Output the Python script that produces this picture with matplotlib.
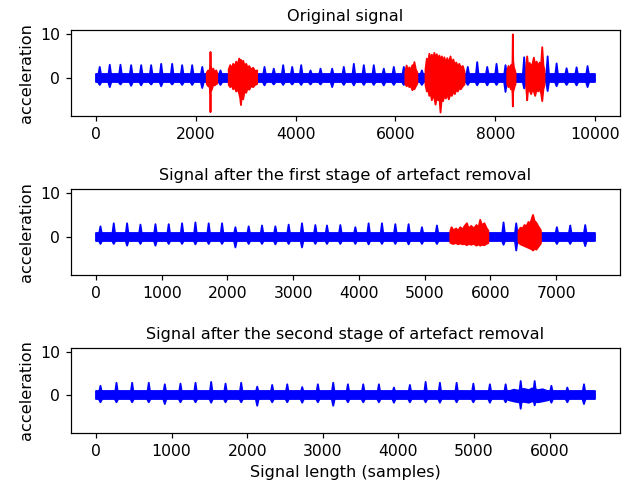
import numpy as np
import matplotlib
matplotlib.use("Agg")
import matplotlib.pyplot as plt

BLUE = "#0000ff"
RED = "#ff0000"

# ---------------- data ----------------
titles = ["Original signal",
          "Signal after the first stage of artefact removal",
          "Signal after the second stage of artefact removal"]
signal_lengths = [10000, 7590, 6600]
base_up = [0.95, 0.95, 0.95]
base_dn = [-1.05, -0.95, -0.95]

# signal 1 (original) : heartbeat-like spikes
s1_spike_pos = [66, 267, 481, 695, 896, 1096, 1297, 1517, 1717, 1918, 2120, 2485,
                3367, 3553, 3741, 3922, 4102, 4289, 4489, 4723, 4956, 5157, 5357,
                5557, 5757, 5958, 6158, 6520, 7440, 7629, 7830, 8016, 8196, 8570,
                9040, 9220, 9420, 9620, 9840]
s1_spike_up = [2.6, 3.1, 3.1, 3.0, 3.0, 3.0, 3.3, 3.3, 3.0, 3.0, 2.6, 1.8,
               2.6, 2.2, 3.0, 2.6, 3.0, 1.8, 2.2, 2.2, 2.6, 3.3, 3.0,
               3.0, 2.2, 2.6, 2.6, 1.8, 2.6, 3.7, 2.6, 3.3, 3.0, 4.8,
               5.0, 3.4, 2.3, 2.5, 2.8]
s1_spike_dn = [-1.5, -2.0, -1.4, -1.7, -1.6, -1.4, -1.8, -1.4, -1.5, -1.5, -2.2, -1.5,
               -1.6, -1.4, -1.5, -1.4, -1.5, -1.4, -1.4, -2.0, -1.5, -1.6, -1.5,
               -1.5, -1.6, -1.5, -1.5, -1.5, -1.5, -1.6, -1.6, -1.5, -3.1, -2.3,
               -2.9, -1.8, -1.5, -1.6, -2.0]
# signal 1 artefact segments (red) : envelope key points
s1_art_pos = [[2210, 2240, 2270, 2280, 2285, 2292, 2310, 2340, 2370, 2400, 2420],
              [2650, 2680, 2710, 2740, 2770, 2800, 2830, 2860, 2880, 2895, 2915, 2940,
               2970, 3000, 3030, 3060, 3100, 3140, 3180, 3220],
              [6190, 6215, 6240, 6270, 6300, 6330, 6350, 6370, 6400, 6430],
              [6593, 6620, 6645, 6670, 6695, 6720, 6745, 6770, 6795, 6820, 6845, 6870,
               6894, 6920, 6945, 6970, 7000, 7030, 7060, 7094, 7120, 7150, 7180, 7210,
               7240, 7270, 7300, 7340, 7375],
              [8230, 8255, 8280, 8305, 8325, 8337, 8343, 8350, 8365, 8380, 8397],
              [8611, 8630, 8650, 8680, 8710, 8740, 8764, 8790, 8820, 8850, 8880, 8910,
               8932, 8955, 8978]]
s1_art_up = [[1.3, 1.8, 1.5, 3.5, 6.0, 3.0, 1.6, 2.2, 1.4, 1.8, 1.2],
             [2.0, 3.0, 2.2, 3.3, 2.6, 3.8, 3.0, 4.5, 3.6, 4.2, 3.2, 4.0,
              2.8, 3.3, 2.4, 2.8, 2.0, 2.4, 1.6, 1.8],
             [1.5, 2.9, 1.8, 2.5, 1.8, 3.0, 2.2, 3.7, 2.0, 1.3],
             [2.0, 4.5, 3.2, 5.6, 4.0, 5.4, 4.2, 5.8, 4.5, 5.5, 3.8, 5.2,
              4.0, 5.0, 3.6, 4.8, 3.5, 4.6, 3.4, 5.0, 3.2, 4.3, 3.0, 3.6,
              2.6, 3.3, 2.4, 2.8, 1.5],
             [1.5, 2.8, 2.0, 3.0, 2.0, 4.0, 10.0, 4.0, 2.5, 2.0, 1.3],
             [2.5, 5.0, 2.8, 3.5, 2.6, 3.4, 4.7, 3.0, 3.8, 2.8, 3.6, 3.0,
              7.1, 3.0, 1.8]]
s1_art_dn = [[-1.3, -1.8, -2.0, -4.0, -7.7, -3.0, -2.6, -1.5, -1.6, -1.3, -1.2],
             [-1.5, -2.0, -1.6, -2.5, -2.0, -3.0, -2.4, -3.5, -4.5, -6.1, -3.5, -4.8,
              -2.8, -3.3, -2.2, -2.6, -1.8, -2.0, -1.5, -1.3],
             [-1.3, -1.8, -1.5, -2.0, -1.8, -2.7, -2.2, -2.5, -1.8, -1.2],
             [-1.5, -3.0, -2.5, -4.0, -3.2, -5.0, -3.8, -4.5, -6.0, -4.2, -5.0, -4.0,
              -7.8, -4.5, -5.2, -3.8, -4.6, -3.5, -4.8, -3.5, -4.0, -3.0, -3.6, -2.6,
              -3.0, -2.2, -2.5, -1.8, -1.4],
             [-1.3, -2.0, -1.6, -2.5, -2.0, -3.5, -6.4, -3.0, -2.5, -1.8, -1.3],
             [-2.0, -5.0, -2.4, -2.8, -3.6, -2.4, -3.0, -4.0, -2.6, -3.0, -2.4, -3.4,
              -5.2, -2.5, -1.5]]

# signal 2 (after first stage)
s2_spike_pos = [61, 263, 466, 669, 897, 1099, 1302, 1505, 1707, 1910, 2113, 2315, 2518,
                2721, 2923, 3126, 3329, 3506, 3709, 3937, 4139, 4342, 4545, 4747, 4950,
                5178, 6191, 6384, 7002, 7205, 7433]
s2_spike_up = [2.5, 3.2, 3.2, 2.9, 3.0, 3.0, 3.2, 3.4, 3.2, 3.2, 2.3, 2.5, 2.7,
               2.5, 2.9, 3.2, 2.8, 2.7, 2.8, 2.3, 3.2, 3.2, 3.0, 3.0, 2.3,
               2.7, 3.4, 3.2, 2.3, 2.7, 2.8]
s2_spike_dn = [-1.5, -1.5, -1.9, -1.5, -1.9, -1.5, -1.5, -1.6, -1.5, -1.5, -2.3, -1.5, -1.5,
               -1.6, -1.5, -2.3, -1.5, -1.5, -1.5, -1.5, -1.6, -1.5, -1.5, -1.6, -1.5,
               -1.5, -1.7, -3.0, -1.5, -1.5, -2.0]
s2_art_pos = [[5381, 5400, 5430, 5470, 5500, 5533, 5570, 5600, 5634, 5660, 5700, 5740,
               5780, 5810, 5837, 5860, 5900, 5930, 5960],
              [6419, 6450, 6480, 6510, 6540, 6570, 6600, 6625, 6640, 6660, 6690, 6720, 6759]]
s2_art_up = [[1.4, 2.3, 1.6, 2.0, 1.5, 2.3, 1.8, 2.6, 3.2, 2.0, 2.6, 2.0,
              2.8, 2.2, 4.0, 2.8, 3.2, 2.2, 1.5],
             [1.5, 2.2, 2.0, 2.8, 2.5, 3.5, 3.2, 4.5, 5.1, 3.8, 3.3, 2.5, 1.6]]
s2_art_dn = [[-1.2, -1.4, -1.5, -1.3, -1.6, -1.4, -1.6, -1.5, -1.8, -1.5, -1.7, -1.5,
              -1.9, -1.6, -1.9, -1.7, -1.8, -1.5, -1.3],
             [-1.2, -1.6, -1.8, -2.0, -2.2, -2.4, -2.6, -2.8, -3.0, -2.6, -2.8, -2.2, -1.4]]

# signal 3 (after second stage)
s3_spike_pos = [53, 265, 472, 692, 904, 1111, 1310, 1517, 1707, 1914, 2126, 2324, 2523,
                2721, 2928, 3131, 3325, 3528, 3735, 3934, 4145, 4353, 4542, 4763, 4984,
                5203, 5411, 5610, 5795, 6016, 6227, 6447]
s3_spike_up = [2.3, 3.0, 3.0, 3.0, 2.65, 2.8, 3.0, 3.2, 2.8, 3.0, 2.1, 2.5, 2.65,
               2.0, 2.65, 3.0, 2.65, 2.65, 2.65, 1.9, 2.5, 3.2, 3.0, 3.0, 2.8,
               2.65, 2.65, 3.4, 3.4, 2.3, 1.9, 2.65]
s3_spike_dn = [-1.5, -1.5, -1.5, -1.5, -1.9, -1.5, -1.5, -1.6, -1.5, -1.5, -2.3, -1.5, -1.5,
               -1.6, -1.5, -2.3, -1.5, -1.5, -1.5, -1.6, -1.5, -1.5, -1.6, -1.5, -1.5,
               -1.6, -1.5, -3.0, -2.2, -1.6, -1.5, -1.9]
s3_art_pos = [[5450, 5520, 5580, 5650, 5720, 5760, 5840, 5900, 5980]]
s3_art_up = [[1.0, 1.4, 1.2, 1.6, 1.3, 1.7, 1.3, 1.5, 1.0]]
s3_art_dn = [[-1.0, -1.3, -1.5, -1.4, -1.6, -1.3, -1.5, -1.3, -1.0]]

spike_pos = [s1_spike_pos, s2_spike_pos, s3_spike_pos]
spike_up = [s1_spike_up, s2_spike_up, s3_spike_up]
spike_dn = [s1_spike_dn, s2_spike_dn, s3_spike_dn]
art_pos = [s1_art_pos, s2_art_pos, s3_art_pos]
art_up = [s1_art_up, s2_art_up, s3_art_up]
art_dn = [s1_art_dn, s2_art_dn, s3_art_dn]
art_color = [RED, RED, BLUE]

# ---------------- figure ----------------
W, H = 633, 486
fig = plt.figure(figsize=(W / 110, H / 110), dpi=110)
ax_px = [(30, 116), (189, 275), (348, 433)]
left_px, right_px = 71, 620

for i in range(3):
    top, bot = ax_px[i]
    ax = fig.add_axes([left_px / W, 1 - bot / H, (right_px - left_px) / W, (bot - top) / H])
    n = signal_lengths[i]
    half_w = 0.0025 * n
    # baseline band
    ax.fill_between([0, n], [base_dn[i]] * 2, [base_up[i]] * 2, color=BLUE,
                    linewidth=1.2, edgecolor=BLUE)
    # spikes
    for p, u, d in zip(spike_pos[i], spike_up[i], spike_dn[i]):
        ax.fill_between([p - half_w, p, p + half_w],
                        [base_dn[i], d, base_dn[i]],
                        [base_up[i], u, base_up[i]],
                        color=BLUE, linewidth=1.2, edgecolor=BLUE)
    # artefact segments
    for xs, us, ds in zip(art_pos[i], art_up[i], art_dn[i]):
        ax.fill_between(xs, ds, us, color=art_color[i], linewidth=1.2,
                        edgecolor=art_color[i], zorder=3)
    ax.set_xlim(-0.05 * n, 1.05 * n)
    ax.set_ylim(-8.7, 10.9)
    ax.set_yticks([0, 10])
    ax.set_ylabel("acceleration", fontsize=10.6)
    ax.set_title(titles[i], fontsize=10.6)
    ax.tick_params(labelsize=10.2)

ax.set_xlabel("Signal length (samples)", fontsize=10.6)
fig.savefig("out.png", dpi=110)
